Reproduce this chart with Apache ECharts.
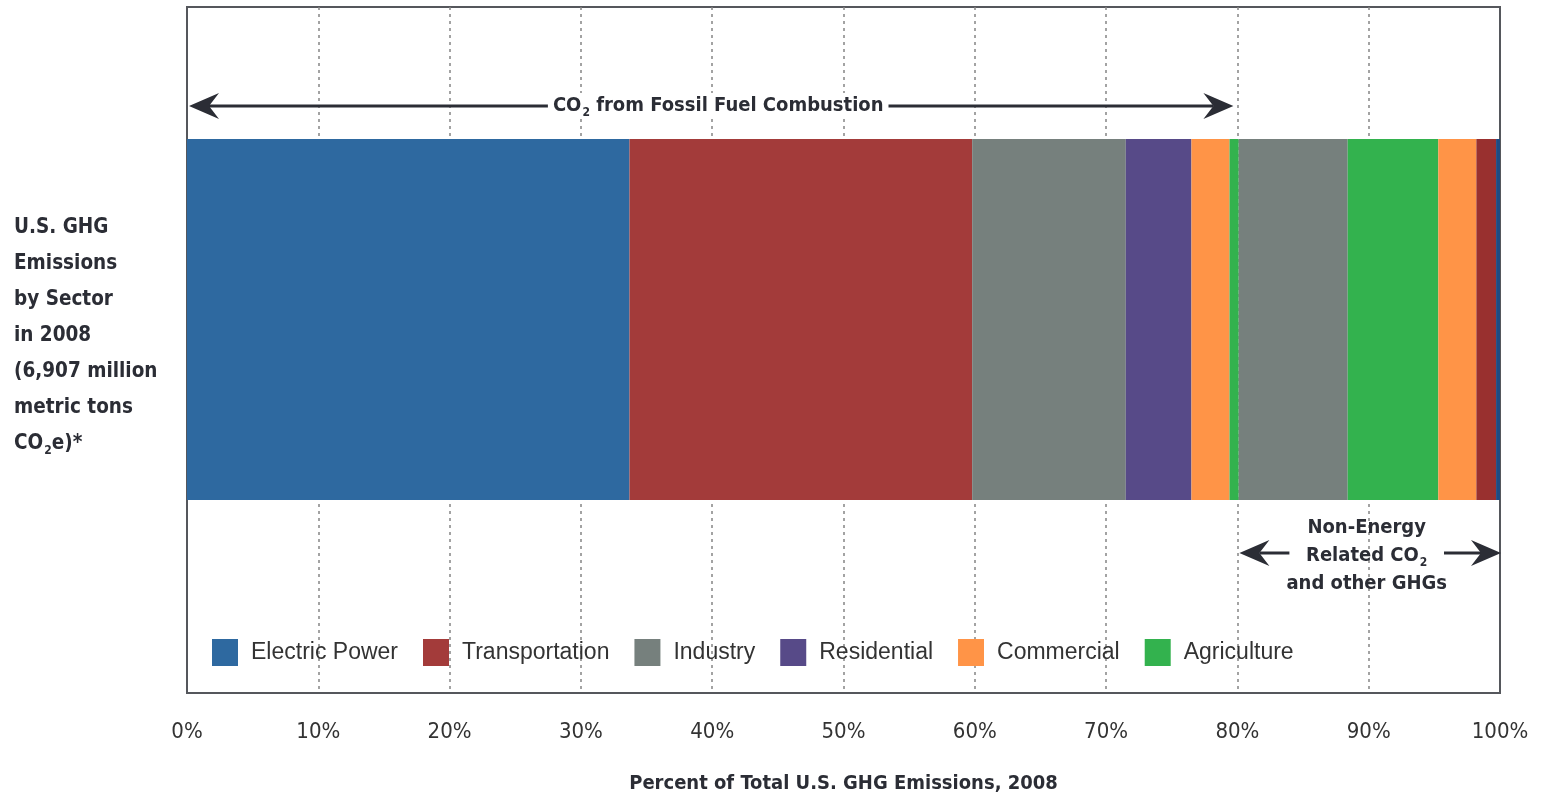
<!DOCTYPE html>
<html><head><meta charset="utf-8">
<script src="https://cdn.jsdelivr.net/npm/echarts@6/dist/echarts.min.js"></script>
<style>html,body{margin:0;padding:0;background:#fff}#c{width:1551px;height:797px}</style>
</head><body><div id="c"></div>
<script>
// ---- data ----
const sectors = ['Electric Power', 'Transportation', 'Industry', 'Residential', 'Commercial', 'Agriculture'];
const fossilValues = [33.7, 26.1, 11.7, 5.0, 2.9, 0.7];          // CO2 from fossil fuel combustion
const nonEnergySectors = ['Industry', 'Agriculture', 'Commercial', 'Transportation', 'Electric Power'];
const nonEnergyValues = [8.3, 6.9, 2.9, 1.5, 0.3];              // non-energy CO2 and other GHGs
const barCategory = ['U.S. GHG 2008'];
const fossilSpan = [0, 80];
const nonEnergySpan = [80, 100];

// ---- styles ----
const sectorColors = {
  'Electric Power': '#2e69a0', 'Transportation': '#a33b3a', 'Industry': '#76807d',
  'Residential': '#574a88', 'Commercial': '#ff9447', 'Agriculture': '#33b24e'
};
const nonEnergyColors = { 'Transportation': '#99302f', 'Electric Power': '#1d4b82' };
const NARROW = "'Liberation Sans Narrow','DejaVu Sans Condensed',sans-serif";
const INK = '#2b2d35';

const chart = echarts.init(document.getElementById('c'), null, { renderer: 'canvas' });

const series = [];
sectors.forEach((s, i) => series.push({
  name: s, type: 'bar', stack: 'total', xAxisIndex: 1, yAxisIndex: 1,
  barWidth: '100%', emphasis: { disabled: true },
  itemStyle: { color: sectorColors[s] }, data: [fossilValues[i]]
}));
nonEnergySectors.forEach((s, i) => series.push({
  name: s, type: 'bar', stack: 'total', xAxisIndex: 1, yAxisIndex: 1,
  barWidth: '100%', emphasis: { disabled: true },
  itemStyle: { color: nonEnergyColors[s] || sectorColors[s] }, data: [nonEnergyValues[i]]
}));

chart.setOption({
  animation: false,
  grid: [
    { left: 187, right: 51, top: 7, bottom: 104, show: true, borderColor: '#55575c', borderWidth: 2, backgroundColor: 'transparent', containLabel: false, outerBoundsMode: 'none' },
    { left: 187, right: 51, top: 139, bottom: 297, containLabel: false, outerBoundsMode: 'none' }
  ],
  xAxis: [
    {
      gridIndex: 0, type: 'value', min: 0, max: 100, interval: 10,
      axisLine: { show: false }, axisTick: { show: false },
      splitLine: { show: true, showMinLine: false, showMaxLine: false, lineStyle: { type: [3, 4], color: '#858585', width: 1.5 } },
      axisLabel: { formatter: '{value}%', margin: 28, fontSize: 22, color: '#333', fontFamily: NARROW },
      name: 'Percent of Total U.S. GHG Emissions, 2008', nameLocation: 'middle', nameGap: 81,
      nameTextStyle: { fontSize: 20, fontWeight: 'bold', color: INK, fontFamily: NARROW }
    },
    { gridIndex: 1, type: 'value', min: 0, max: 100, show: false }
  ],
  yAxis: [
    { gridIndex: 0, type: 'value', show: false },
    { gridIndex: 1, type: 'category', data: barCategory, show: false }
  ],
  legend: {
    data: sectors, left: 212, top: 639, padding: 0, itemWidth: 26, itemHeight: 27, itemGap: 25,
    icon: 'rect', selectedMode: false,
    textStyle: { fontSize: 23, color: '#333', fontFamily: "'Liberation Sans',Arial,sans-serif", padding: [0, 0, 0, 8] }
  },
  series: series
});

// ---- annotations placed via the axis scale ----
const px = v => chart.convertToPixel({ xAxisIndex: 0 }, v);
function arrow(xTail, xTip, y) {
  const dir = xTip > xTail ? 1 : -1;
  const headL = 30, headH = 13;
  return [
    { type: 'line', shape: { x1: xTail, y1: y, x2: xTip - dir * 20, y2: y }, style: { stroke: INK, lineWidth: 3 }, z: 10 },
    { type: 'polygon', shape: { points: [[xTip, y], [xTip - dir * headL, y - headH], [xTip - dir * (headL - 10), y], [xTip - dir * headL, y + headH]] }, style: { fill: INK }, z: 10 }
  ];
}
const richBase = {
  b: { fontSize: 20, fontWeight: 'bold', fontFamily: NARROW, fill: INK, color: INK },
  s: { fontSize: 12, fontWeight: 'bold', fontFamily: NARROW, fill: INK, color: INK, padding: [14, 0, 0, 1] }
};
const topY = 106, bottomY = 553;
const fx0 = px(fossilSpan[0]), fx1 = px(fossilSpan[1]);
const nx0 = px(nonEnergySpan[0]), nx1 = px(nonEnergySpan[1]);
const elements = [];
elements.push(...arrow((fx0 + fx1) / 2, fx0 + 2, topY));
elements.push(...arrow((fx0 + fx1) / 2, fx1 - 4, topY));
elements.push({
  type: 'text', z: 20,
  style: {
    x: (fx0 + fx1) / 2 + 6, y: topY, text: '{b|CO}{s|2}{b| from Fossil Fuel Combustion}', rich: richBase,
    align: 'center', verticalAlign: 'middle', textAlign: 'center', textVerticalAlign: 'middle',
    backgroundColor: '#fff', padding: [0, 5, 0, 5]
  }
});
elements.push(...arrow(nx0 + 52, nx0 + 2, bottomY));
elements.push(...arrow(nx1 - 56, nx1 + 1, bottomY));
elements.push({
  type: 'text', z: 20,
  style: {
    x: (nx0 + nx1) / 2 - 2, y: bottomY + 3,
    text: '{b|Non-Energy}\n{b|Related CO}{s|2}\n{b|and other GHGs}',
    rich: { b: Object.assign({ lineHeight: 28 }, richBase.b), s: Object.assign({ lineHeight: 28 }, richBase.s) },
    align: 'center', verticalAlign: 'middle', textAlign: 'center', textVerticalAlign: 'middle'
  }
});
elements.push({
  type: 'text', z: 20,
  style: {
    x: 14, y: 210,
    text: '{b|U.S. GHG}\n{b|Emissions}\n{b|by Sector}\n{b|in 2008}\n{b|(6,907 million}\n{b|metric tons}\n{b|CO}{s|2}{b|e)*}',
    rich: { b: Object.assign({ lineHeight: 36 }, richBase.b, { fontSize: 20.5 }), s: Object.assign({ lineHeight: 36 }, richBase.s) },
    align: 'left', verticalAlign: 'top', textAlign: 'left', textVerticalAlign: 'top'
  }
});
chart.setOption({ graphic: { elements: elements } });
</script>
</body></html>
